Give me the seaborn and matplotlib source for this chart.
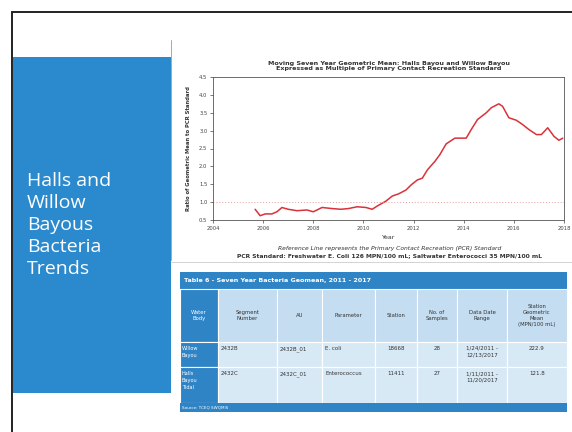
import matplotlib
matplotlib.use("Agg")
import matplotlib.pyplot as plt
import matplotlib.patches as patches
import seaborn as sns
import pandas as pd

# data
years = [2005.68, 2005.88, 2006.08, 2006.35, 2006.55, 2006.75, 2007.0, 2007.35,
         2007.75, 2008.0, 2008.35, 2008.75, 2009.1, 2009.4, 2009.75, 2010.1,
         2010.35, 2010.55, 2010.9, 2011.15, 2011.4, 2011.7, 2011.9, 2012.15,
         2012.35, 2012.55, 2012.85, 2013.05, 2013.3, 2013.65, 2013.9, 2014.1,
         2014.3, 2014.55, 2014.9, 2015.1, 2015.4, 2015.55, 2015.8, 2016.1,
         2016.35, 2016.6, 2016.9, 2017.1, 2017.35, 2017.6, 2017.8, 2017.95]
ratio = [0.80, 0.62, 0.67, 0.67, 0.73, 0.85, 0.80, 0.76,
         0.78, 0.73, 0.85, 0.82, 0.80, 0.82, 0.87, 0.85,
         0.80, 0.89, 1.03, 1.17, 1.23, 1.34, 1.48, 1.62,
         1.67, 1.90, 2.14, 2.33, 2.63, 2.79, 2.79, 2.79,
         3.03, 3.31, 3.50, 3.64, 3.75, 3.68, 3.36, 3.29,
         3.17, 3.03, 2.89, 2.89, 3.08, 2.84, 2.73, 2.79]
ref_level = 1.0
x_ticks = [2004, 2006, 2008, 2010, 2012, 2014, 2016, 2018]
y_ticks = [0.5, 1.0, 1.5, 2.0, 2.5, 3.0, 3.5, 4.0, 4.5]

table_title = "Table 6 - Seven Year Bacteria Geomean, 2011 - 2017"
table_header = ["Water\nBody", "Segment\nNumber", "AU", "Parameter", "Station",
                "No. of\nSamples", "Data Date\nRange", "Station\nGeometric\nMean\n(MPN/100 mL)"]
table_rows = [
    ["Willow\nBayou", "2432B", "2432B_01", "E. coli", "18668", "28",
     "1/24/2011 -\n12/13/2017", "222.9"],
    ["Halls\nBayou\nTidal", "2432C", "2432C_01", "Enterococcus", "11411", "27",
     "1/11/2011 -\n11/20/2017", "121.8"],
]
table_source = "Source: TCEQ SWQMIS"

W, H = 572, 432
sns.set_theme(style="white")
plt.rcParams['font.family'] = ['DejaVu Sans']

fig = plt.figure(figsize=(W / 100, H / 100), dpi=100)
fig.patch.set_facecolor("white")

# overlay in pixel coords for the slide decoration
bg = fig.add_axes([0, 0, 1, 1])
bg.set_xlim(0, W)
bg.set_ylim(H, 0)
bg.axis("off")

blue = "#2b8acd"
dark_blue = "#2f84c6"
bg.plot([12, 12], [12, H], color="#222222", lw=1.4)
bg.plot([12, W], [12, 12], color="#222222", lw=1.4)
bg.add_patch(patches.Rectangle((13, 57), 158, 336, color=blue, lw=0))
bg.text(27, 225, "Halls and\nWillow\nBayous\nBacteria\nTrends", color="white",
        fontsize=14, family="Open Sans", va="center", ha="left", linespacing=1.3)
# chart image edges
bg.plot([171, 171], [40, 260], color="#9a9a9a", lw=0.6)
bg.plot([171, W], [262, 262], color="#cccccc", lw=0.6)

# table
cols = [180, 218, 277, 322, 375, 417, 457, 507, 567]
bg.add_patch(patches.Rectangle((180, 272), 387, 17, color=dark_blue, lw=0))
bg.text(184, 280.5, table_title, color="white", fontsize=4.6, va="center", ha="left",
        fontweight="bold")
row_edges = [289, 342, 367, 403]
for r in range(3):
    y0, y1 = row_edges[r], row_edges[r + 1]
    for c in range(8):
        x0, x1 = cols[c], cols[c + 1]
        if c == 0:
            fc = dark_blue
        elif r == 0:
            fc = "#c4ddf1"
        else:
            fc = "#d8e9f6"
        bg.add_patch(patches.Rectangle((x0, y0), x1 - x0, y1 - y0, facecolor=fc,
                                       edgecolor="white", lw=0.8))
for c, lab in enumerate(table_header):
    bg.text((cols[c] + cols[c + 1]) / 2, 315.5, lab, fontsize=3.8, ha="center", va="center",
            color="white" if c == 0 else "#333333", linespacing=1.3)
for r, row in enumerate(table_rows):
    y0 = row_edges[r + 1] + 4
    for c, val in enumerate(row):
        if c == 0:
            bg.text(cols[0] + 2, y0, val, fontsize=3.6, ha="left", va="top",
                    color="white", linespacing=1.5)
        elif c in (1, 2, 3):
            bg.text(cols[c] + 3, y0, val, fontsize=4.0, ha="left", va="top", color="#333333")
        else:
            bg.text((cols[c] + cols[c + 1]) / 2, y0, val, fontsize=4.0, ha="center",
                    va="top", color="#333333", linespacing=1.3)
bg.add_patch(patches.Rectangle((180, 403), 387, 9, color=dark_blue, lw=0))
bg.text(182, 407.5, table_source, color="white", fontsize=3.0, va="center", ha="left")

# chart
ax = fig.add_axes([213 / W, 1 - 220 / H, 351 / W, 143 / H])
df = pd.DataFrame({"Year": years, "Ratio": ratio})
sns.lineplot(data=df, x="Year", y="Ratio", ax=ax, color="#d8323b", lw=1.1)
ax.axhline(ref_level, color="#e8a0a0", lw=0.7, ls=(0, (1, 2)))
ax.set_xlim(x_ticks[0], x_ticks[-1])
ax.set_ylim(y_ticks[0], y_ticks[-1])
ax.set_xticks(x_ticks)
ax.set_yticks(y_ticks)
ax.set_yticklabels([f"{v:.1f}" for v in y_ticks])
ax.tick_params(labelsize=3.8, length=2, width=0.5, pad=2, colors="#444444",
               bottom=True, left=True)
for s in ax.spines.values():
    s.set_color("#555555")
    s.set_linewidth(0.6)
ax.set_xlabel("Year", fontsize=4.5, color="#333333", labelpad=3)
ax.set_ylabel("Ratio of Geometric Mean to PCR Standard", fontsize=3.8,
              color="#333333", fontweight="bold", labelpad=6)
ax.set_title("Moving Seven Year Geometric Mean: Halls Bayou and Willow Bayou\n"
             "Expressed as Multiple of Primary Contact Recreation Standard",
             fontsize=4.6, fontweight="bold", color="#333333", pad=5, linespacing=1.1)

fig.text(390 / W, 1 - 249 / H,
         "Reference Line represents the Primary Contact Recreation (PCR) Standard",
         fontsize=4.3, ha="center", va="center", style="italic", color="#333333")
fig.text(390 / W, 1 - 256 / H,
         "PCR Standard: Freshwater E. Coli 126 MPN/100 mL; Saltwater Enterococci 35 MPN/100 mL",
         fontsize=4.3, ha="center", va="center", fontweight="bold", color="#333333")

fig.savefig("out.png", dpi=100, facecolor="white")
